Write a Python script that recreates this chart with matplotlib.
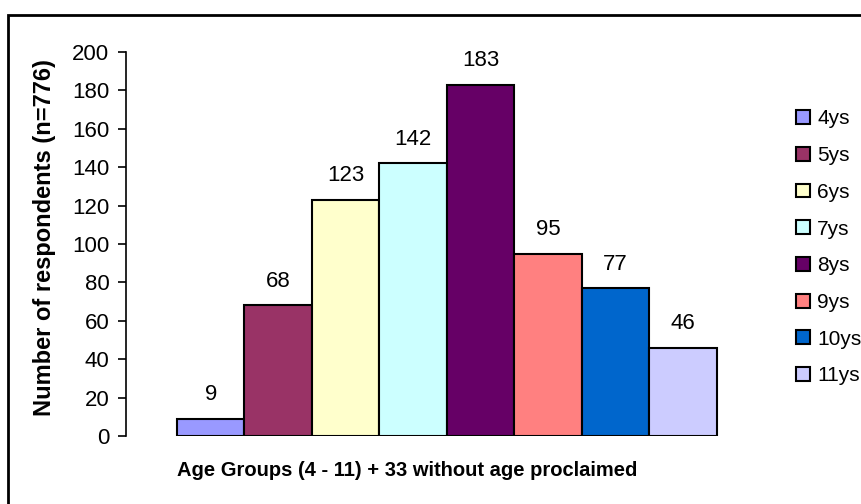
import matplotlib.pyplot as plt
from matplotlib.patches import Rectangle

plt.rcParams['font.family'] = ['Liberation Sans', 'DejaVu Sans']

# Respondents per age group
ages = ['4ys', '5ys', '6ys', '7ys', '8ys', '9ys', '10ys', '11ys']
counts = [9, 68, 123, 142, 183, 95, 77, 46]
colors = ['#9999FF', '#993366', '#FFFFCC', '#CCFFFF',
          '#660066', '#FF8080', '#0066CC', '#CCCCFF']
yticks = list(range(0, 201, 20))

W, H = 861, 504
fig = plt.figure(figsize=(W / 100, H / 100), dpi=100)

# outer chart border (runs off the right and bottom edges)
fig.patches.append(Rectangle((8 / W, -0.1), 1.2, 1.1 - 15 / H,
                             transform=fig.transFigure, fill=False,
                             edgecolor='black', linewidth=2))

ax = fig.add_axes([126 / W, (H - 436) / H, (768 - 126) / W, (436 - 52) / H])

pad = 51 / 67.5
for i, (age, n, c) in enumerate(zip(ages, counts, colors)):
    ax.bar(i, n, width=1.0, color=c, edgecolor='black', linewidth=1.5,
           label=age)
    ax.text(i, n + 12.5, str(n), ha='center', va='center', fontsize=16)

ax.set_xlim(-0.5 - pad, len(ages) - 0.5 + pad)
ax.set_ylim(0, 200)
ax.set_yticks(yticks)
ax.set_xticks([])
ax.tick_params(axis='y', direction='out', length=6, width=1.2,
               labelsize=16, pad=6)
for s in ['top', 'right', 'bottom']:
    ax.spines[s].set_visible(False)
ax.spines['left'].set_linewidth(1.2)

fig.text(45 / W, 1 - 238 / H, 'Number of respondents (n=776)', rotation=90,
         ha='center', va='center', fontsize=17, fontweight='bold')
fig.text(407 / W, 1 - 471 / H, 'Age Groups (4 - 11) + 33 without age proclaimed',
         ha='center', va='center', fontsize=14.5, fontweight='bold')

leg = ax.legend(loc='upper left', bbox_to_anchor=(786 / W, 1 - 99 / H),
                bbox_transform=fig.transFigure, frameon=False, fontsize=15,
                handlelength=0.65, handleheight=0.65, handletextpad=0.35,
                labelspacing=0.85, borderpad=0)

fig.savefig('out.png', dpi=100)
